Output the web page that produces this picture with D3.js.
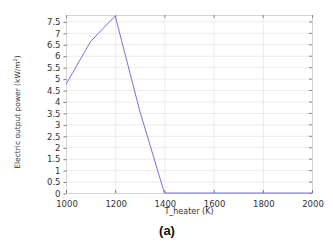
<!DOCTYPE html>
<html>
<head>
<meta charset="utf-8">
<script src="https://cdn.jsdelivr.net/npm/d3@7"></script>
<style>
  body { margin: 0; background: #fff; }
  svg { display: block; }
</style>
</head>
<body>
<div id="container"></div>
<script>
const width = 333;
const height = 243;

// data
var heaterTemps = [1000, 1100, 1200, 1300, 1400, 1500, 1600, 1700, 1800, 1900, 2000];
var powerValues = [4.75, 6.62, 7.74, 3.58, 0, 0, 0, 0, 0, 0, 0];
var xTickValues = [1000, 1200, 1400, 1600, 1800, 2000];
var yTickValues = [0, 0.5, 1, 1.5, 2, 2.5, 3, 3.5, 4, 4.5, 5, 5.5, 6, 6.5, 7, 7.5];

const plotLeft = 66, plotRight = 312, plotTop = 15, plotBottom = 193;

const svg = d3.select('#container')
    .append('svg')
    .attr('width', width)
    .attr('height', height);

const x = d3.scaleLinear().domain([1000, 2000]).range([plotLeft, plotRight]);
const y = d3.scaleLinear().domain([0, 7.78]).range([plotBottom, plotTop]);

/* grid */
svg.append('g')
    .selectAll('line')
    .data(yTickValues)
    .enter().append('line')
    .attr('x1', plotLeft).attr('x2', plotRight)
    .attr('y1', d => y(d) + 0.5).attr('y2', d => y(d) + 0.5)
    .attr('stroke', '#ececec');

svg.append('g')
    .selectAll('line')
    .data(xTickValues)
    .enter().append('line')
    .attr('x1', d => x(d) + 0.5).attr('x2', d => x(d) + 0.5)
    .attr('y1', plotTop).attr('y2', plotBottom)
    .attr('stroke', '#ececec');

/* frame */
svg.append('rect')
    .attr('x', plotLeft + 0.5).attr('y', plotTop + 0.5)
    .attr('width', plotRight - plotLeft).attr('height', plotBottom - plotTop)
    .attr('fill', 'none')
    .attr('stroke', '#d4d4d4');

/* axes */
const fmt = d => String(d);

const yAxis = svg.append('g')
    .attr('transform', `translate(${plotLeft + 0.5},0.5)`)
    .call(d3.axisLeft(y).tickValues(yTickValues).tickSize(3).tickPadding(3).tickFormat(fmt));

const xAxis = svg.append('g')
    .attr('transform', `translate(0.5,${plotBottom + 0.5})`)
    .call(d3.axisBottom(x).tickValues(xTickValues).tickSize(0).tickPadding(7).tickFormat(fmt));

// inner ticks on bottom, top and right
svg.append('g')
    .selectAll('line')
    .data(xTickValues)
    .enter().append('line')
    .attr('x1', d => x(d) + 0.5).attr('x2', d => x(d) + 0.5)
    .attr('y1', plotBottom).attr('y2', plotBottom - 3)
    .attr('stroke', '#777');

svg.append('g')
    .selectAll('line')
    .data(xTickValues)
    .enter().append('line')
    .attr('x1', d => x(d) + 0.5).attr('x2', d => x(d) + 0.5)
    .attr('y1', plotTop).attr('y2', plotTop + 3)
    .attr('stroke', '#888');

svg.append('g')
    .selectAll('line')
    .data(yTickValues)
    .enter().append('line')
    .attr('x1', plotRight).attr('x2', plotRight - 3)
    .attr('y1', d => y(d) + 0.5).attr('y2', d => y(d) + 0.5)
    .attr('stroke', '#888');

[yAxis, xAxis].forEach(a => {
    a.select('.domain').remove();
    a.selectAll('text')
        .style('font-family', 'DejaVu Sans')
        .style('font-size', '8.5px')
        .attr('fill', '#333');
    a.selectAll('line').attr('stroke', '#777');
});

/* data line */
const line = d3.line()
    .x((d, i) => x(heaterTemps[i]))
    .y(d => y(d));

svg.append('path')
    .datum(powerValues)
    .attr('d', line)
    .attr('fill', 'none')
    .attr('stroke', '#7474d8')
    .attr('stroke-width', 1);

/* labels */
svg.append('text')
    .attr('transform', `translate(20,${(plotTop + plotBottom) / 2 + 8}) rotate(-90)`)
    .attr('text-anchor', 'middle')
    .style('font-family', 'DejaVu Sans')
    .style('font-size', '7.5px')
    .attr('fill', '#333')
    .html('Electric output power (kW/m<tspan dy="-3" font-size="5px">2</tspan><tspan dy="3">)</tspan>');

svg.append('text')
    .attr('x', (plotLeft + plotRight) / 2)
    .attr('y', 214)
    .attr('text-anchor', 'middle')
    .style('font-family', 'DejaVu Sans')
    .style('font-size', '8px')
    .attr('fill', '#333')
    .text('T_heater (K)');

svg.append('text')
    .attr('x', 167)
    .attr('y', 235)
    .attr('text-anchor', 'middle')
    .style('font-family', 'Liberation Sans')
    .style('font-weight', 'bold')
    .style('font-size', '13px')
    .attr('fill', '#111')
    .text('(a)');
</script>
</body>
</html>
